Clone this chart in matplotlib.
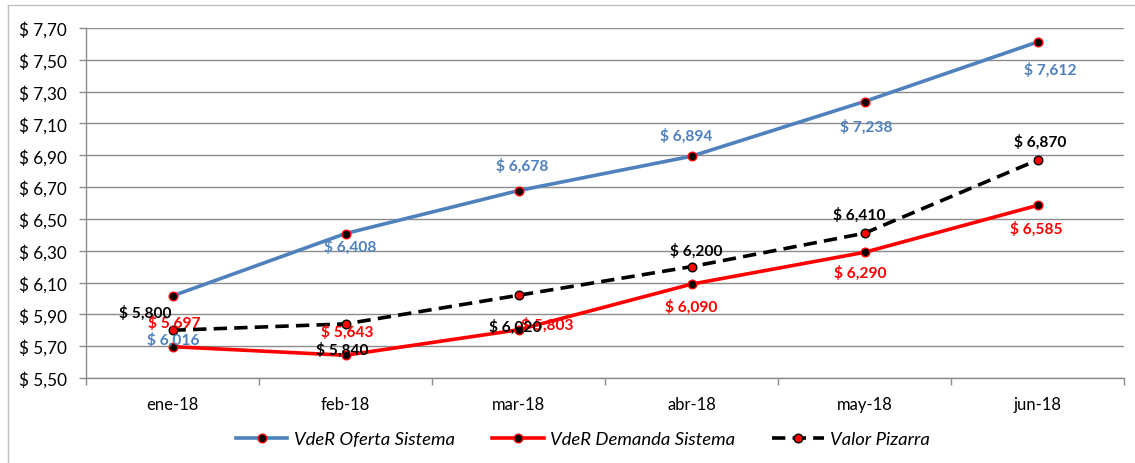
import matplotlib
matplotlib.use("Agg")
import matplotlib.pyplot as plt
from matplotlib.lines import Line2D
from matplotlib.ticker import FuncFormatter, FixedLocator
import numpy as np

categories = ["ene-18", "feb-18", "mar-18", "abr-18", "may-18", "jun-18"]
oferta = [6.016, 6.408, 6.678, 6.894, 7.238, 7.612]
demanda = [5.697, 5.643, 5.803, 6.090, 6.290, 6.585]
pizarra = [5.800, 5.840, 6.020, 6.200, 6.410, 6.870]
series_names = ["VdeR Oferta Sistema", "VdeR Demanda Sistema", "Valor Pizarra"]
y_ticks = [5.50, 5.70, 5.90, 6.10, 6.30, 6.50, 6.70, 6.90, 7.10, 7.30, 7.50, 7.70]

# label offsets in pixels (dx right, dy down) relative to each point
off_oferta = [(1, 43), (5, 13), (4, -25), (-5, -21), (2, 25), (13, 27)]
off_demanda = [(2, -24), (2, -24), (29, -6), (0, 22), (-4, 20), (-1, 23)]
off_pizarra = [(-27, -18), (-3, 25), (-3, 31), (5, -16), (-5, -19), (3, -19)]

FONT = "Lato"
W, H = 1135, 464
fig = plt.figure(figsize=(W / 100, H / 100), dpi=100)
fig.patch.set_facecolor("white")

ax = fig.add_axes([86 / W, 1 - 379 / H, (1124 - 86) / W, (379 - 29) / H])
x = np.arange(len(categories))

blue = "#4F81BD"
red = "#FF0000"

ax.plot(x, oferta, color=blue, lw=2.6, marker="o", ms=6.2, mfc="black", mec=red, mew=1.0, zorder=3, label=series_names[0])
ax.plot(x, demanda, color=red, lw=2.6, marker="o", ms=6.2, mfc="black", mec=red, mew=1.0, zorder=3, label=series_names[1])
ax.plot(x, pizarra, color="black", lw=2.6, ls=(0, (3.7, 2.0)), marker="o", ms=6.2, mfc=red, mec="black", mew=1.0, zorder=3, label=series_names[2])

def fmt_label(v):
    return "$ " + f"{v:.3f}".replace(".", ",")

for vals, offs, col in [(oferta, off_oferta, blue), (demanda, off_demanda, red), (pizarra, off_pizarra, "black")]:
    for i, (v, (dx, dy)) in enumerate(zip(vals, offs)):
        ax.annotate(fmt_label(v), (x[i], v), xytext=(dx, -dy), textcoords="offset pixels",
                    ha="center", va="center", fontsize=11.2, fontweight="bold", color=col,
                    family=FONT, zorder=5)

ax.set_xlim(-0.5, len(categories) - 0.5)
ax.set_ylim(5.50, 7.70)
ax.yaxis.set_major_locator(FixedLocator(y_ticks))
ax.yaxis.set_major_formatter(FuncFormatter(lambda v, p: "$ " + f"{v:.2f}".replace(".", ",")))
ax.grid(axis="y", color="#8c8c8c", lw=1.0)
ax.set_axisbelow(True)

ax.set_xticks(x)
ax.set_xticklabels(categories)
ax.xaxis.set_minor_locator(FixedLocator(np.arange(-0.5, len(categories), 1.0)))
ax.tick_params(axis="x", which="major", length=0, pad=13, labelsize=12, labelcolor="black")
ax.tick_params(axis="x", which="minor", length=5, color="#8c8c8c", width=1)
ax.tick_params(axis="y", length=5, color="#8c8c8c", width=1, pad=9, labelsize=12.3)
for lab in ax.get_xticklabels() + ax.get_yticklabels():
    lab.set_family(FONT)

for s in ["top", "right"]:
    ax.spines[s].set_visible(False)
for s in ["left", "bottom"]:
    ax.spines[s].set_color("#8c8c8c")
    ax.spines[s].set_linewidth(1.0)

leg = fig.legend(loc="center", bbox_to_anchor=(583 / W, 1 - 440 / H), ncol=3, frameon=False,
                 prop={"family": FONT, "style": "italic", "size": 13.3}, handlelength=2.8,
                 columnspacing=2.0, handletextpad=0.35)

# outer chart border (top and left visible)
fig.add_artist(Line2D([8 / W, 1.0], [1 - 6 / H, 1 - 6 / H], transform=fig.transFigure, color="#c0c0c0", lw=1))
fig.add_artist(Line2D([8 / W, 8 / W], [0, 1 - 6 / H], transform=fig.transFigure, color="#c0c0c0", lw=1))

fig.savefig("out.png", dpi=100)
